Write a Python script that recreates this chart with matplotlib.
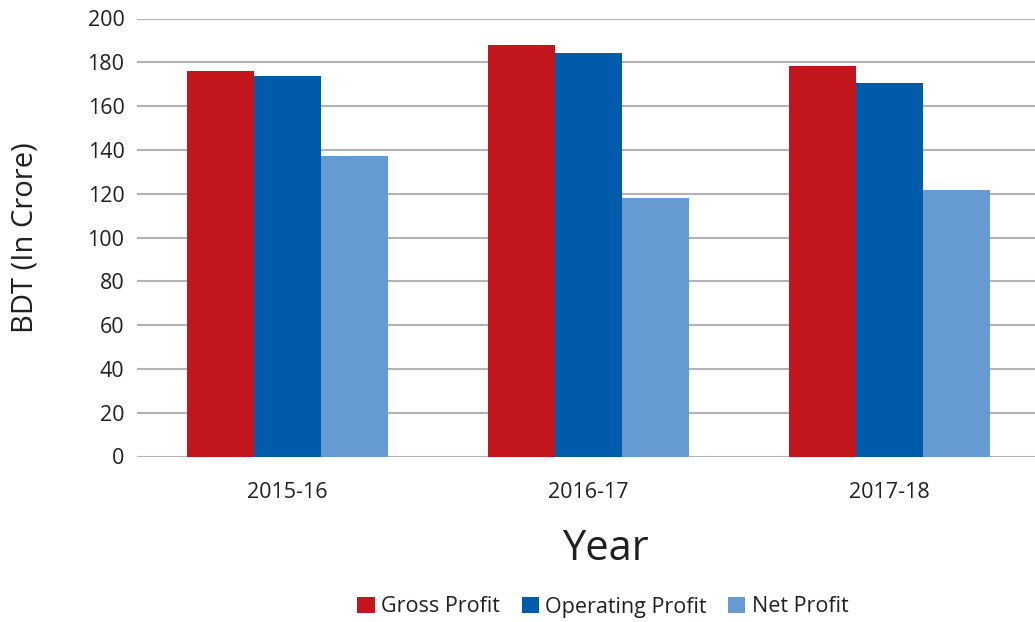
import numpy as np
import matplotlib.pyplot as plt

plt.rcParams['font.family'] = ['Open Sans', 'DejaVu Sans']

years = ['2015-16', '2016-17', '2017-18']
gross_profit = [176.0, 187.9, 178.3]
operating_profit = [173.7, 184.2, 170.5]
net_profit = [137.2, 118.0, 121.7]

series = [('Gross Profit', gross_profit, '#C3161C'),
          ('Operating Profit', operating_profit, '#005BAA'),
          ('Net Profit', net_profit, '#659AD2')]

fig = plt.figure(figsize=(10.35, 6.22), dpi=100)
ax = fig.add_axes([137 / 1035, 165.5 / 622, 903 / 1035, 438 / 622])

x = np.arange(len(years))
w = 0.2225
for i, (name, vals, col) in enumerate(series):
    ax.bar(x + (i - 1) * w, vals, w, color=col, label=name, zorder=3)

ax.set_xlim(-0.5, 2.5)
ax.set_ylim(0, 200)
ax.set_yticks(range(0, 201, 20))
ax.set_xticks(x)
ax.set_xticklabels(years)
ax.yaxis.grid(True, color='#b3b3b3', linewidth=1.5, zorder=0)
ax.tick_params(axis='both', length=0, labelsize=15.5, labelcolor='#231F20')
ax.tick_params(axis='y', pad=9)
ax.tick_params(axis='x', pad=18)
for s in ax.spines.values():
    s.set_visible(False)
ax.axhline(200, color='#8c8c8c', linewidth=1.5, zorder=1)

ax.set_xlabel('Year', fontsize=30, color='#231F20')
ax.xaxis.set_label_coords(468 / 903, -72 / 438)
ax.set_ylabel('BDT (In Crore)', fontsize=21, color='#231F20')
ax.yaxis.set_label_coords(-97 / 903, 0.5)

fig.legend(loc='center', bbox_to_anchor=(603 / 1035, 15 / 622), ncol=3,
           frameon=False, fontsize=15.5, handlelength=0.8, handleheight=0.8,
           handletextpad=0.3, columnspacing=1.0, labelcolor='#231F20')

fig.savefig('out.png', dpi=100)
